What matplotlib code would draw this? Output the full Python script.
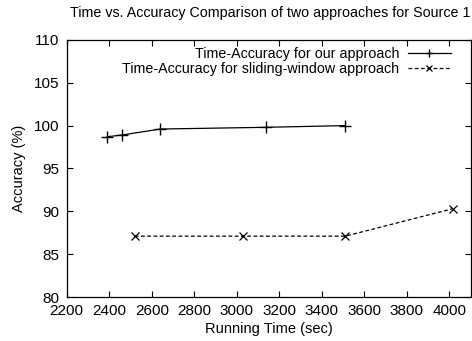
import matplotlib
matplotlib.use("Agg")
import matplotlib.pyplot as plt

plt.rcParams['font.family'] = ['Liberation Sans', 'DejaVu Sans']

# measured runs
ours_time = [2390, 2460, 2640, 3135, 3510]
ours_acc = [98.7, 98.9, 99.6, 99.8, 100.0]
sliding_time = [2520, 3030, 3510, 4015]
sliding_acc = [87.1, 87.1, 87.1, 90.3]

xticks = list(range(2200, 4001, 200))
yticks = list(range(80, 111, 5))

fig = plt.figure(figsize=(4.72, 3.41), dpi=100)
ax = fig.add_axes([0.1413, 0.129, 0.856, 0.754])

ax.plot(ours_time, ours_acc, color='black', lw=0.9, marker='+', ms=8, mew=1.0,
        label='Time-Accuracy for our approach')
ax.plot(sliding_time, sliding_acc, color='black', lw=0.9, ls=(0, (3, 2)),
        marker='x', ms=6, mew=0.9,
        label='Time-Accuracy for sliding-window approach')

ax.set_xlim(2200, 4100)
ax.set_ylim(80, 110)
ax.set_xticks(xticks)
ax.set_yticks(yticks)
ax.tick_params(direction='in', top=True, right=True, length=4, width=0.8,
               labelsize=11, pad=5)
for s in ax.spines.values():
    s.set_linewidth(0.9)

ax.set_xlabel('Running Time (sec)', fontsize=10.5, labelpad=3)
ax.set_ylabel('Accuracy (%)', fontsize=10.5, labelpad=6)
fig.text(0.996, 0.963, 'Time vs. Accuracy Comparison of two approaches for Source 1',
         ha='right', va='center', fontsize=10.3)

leg = ax.legend(loc='upper right', bbox_to_anchor=(0.968, 1.0), frameon=False,
                markerfirst=False, fontsize=10.3, handlelength=3.0,
                handletextpad=0.6, borderaxespad=0.3, borderpad=0.2,
                labelspacing=0.05)
for t in leg.get_texts():
    t.set_ha('right')
leg.legend_handles[0].set_markersize(6)
leg.legend_handles[1].set_markersize(5)

fig.savefig('out.png', dpi=100)
